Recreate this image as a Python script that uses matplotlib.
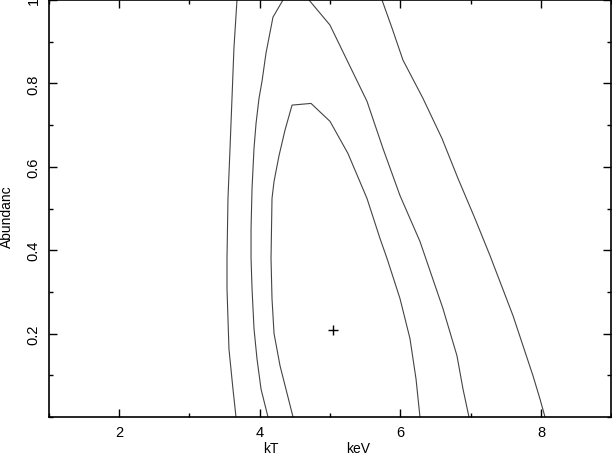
import numpy as np
import matplotlib
matplotlib.use('Agg')
import matplotlib.pyplot as plt
from matplotlib.ticker import MultipleLocator

plt.rcParams['font.family'] = ['Liberation Sans', 'DejaVu Sans']

# contour lines (kT in keV, abundance)
outer_left_kt = [3.677, 3.634, 3.606, 3.578, 3.549, 3.535, 3.535, 3.563, 3.620, 3.663]
outer_left_ab = [1.000, 0.885, 0.764, 0.644, 0.524, 0.380, 0.308, 0.163, 0.067, 0.000]
outer_right_kt = [5.739, 5.881, 6.037, 6.322, 6.592, 6.820, 7.061, 7.275, 7.602, 7.886, 7.986, 8.057]
outer_right_ab = [1.000, 0.933, 0.856, 0.764, 0.668, 0.572, 0.476, 0.387, 0.243, 0.099, 0.043, 0.000]

mid_left_kt = [4.331, 4.189, 4.090, 4.033, 3.990, 3.948, 3.919, 3.891, 3.877, 3.877, 3.891,
               3.919, 3.962, 4.019, 4.118]
mid_left_ab = [1.000, 0.959, 0.873, 0.805, 0.764, 0.704, 0.644, 0.548, 0.452, 0.380, 0.308,
               0.212, 0.139, 0.067, 0.000]
mid_right_kt = [4.701, 4.999, 5.255, 5.526, 5.753, 5.995, 6.137, 6.279, 6.606, 6.805, 6.891, 6.976]
mid_right_ab = [1.000, 0.940, 0.851, 0.757, 0.644, 0.531, 0.476, 0.421, 0.260, 0.147, 0.067, 0.000]

inner_kt = [4.474, 4.289, 4.204, 4.175, 4.161, 4.175, 4.204, 4.275, 4.360, 4.460, 4.730, 5.000,
            5.255, 5.526, 5.711, 5.811, 5.995, 6.137, 6.223, 6.279]
inner_ab = [0.000, 0.123, 0.200, 0.284, 0.380, 0.524, 0.565, 0.627, 0.688, 0.748, 0.752, 0.709,
            0.632, 0.524, 0.428, 0.380, 0.284, 0.188, 0.091, 0.000]

best_kt = [5.047]
best_ab = [0.209]

fig = plt.figure(figsize=(6.12, 4.56), dpi=100)
ax = fig.add_axes([0.0796, 0.0833, 0.9193, 0.9145])

lc = '#444444'
ax.plot(outer_left_kt, outer_left_ab, color=lc, lw=0.8)
ax.plot(outer_right_kt, outer_right_ab, color=lc, lw=0.8)
ax.plot(mid_left_kt, mid_left_ab, color=lc, lw=0.8)
ax.plot(mid_right_kt, mid_right_ab, color=lc, lw=0.8)
ax.plot(inner_kt, inner_ab, color=lc, lw=0.8)
ax.plot(best_kt, best_ab, '+', color='black', ms=7, mew=1.0)

ax.set_xlim(1, 9)
ax.set_ylim(0, 1)
ax.xaxis.set_minor_locator(MultipleLocator(1))
ax.yaxis.set_minor_locator(MultipleLocator(0.1))
ax.set_xticks([2, 4, 6, 8])
ax.set_xticklabels(['2', '4', '6', '8'])
ax.set_yticks([0.2, 0.4, 0.6, 0.8, 1.0])
ax.set_yticklabels(['0.2', '0.4', '0.6', '0.8', '1'], rotation=90, va='center')
ax.tick_params(which='both', direction='in', top=True, right=True, labelsize=10.5, pad=6)
ax.tick_params(which='major', length=6, width=1)
ax.tick_params(which='minor', length=3, width=1)
for s in ax.spines.values():
    s.set_linewidth(1.2)

fig.text(271 / 612, 1 - 449 / 456, 'kT', ha='center', va='center', fontsize=10)
fig.text(358 / 612, 1 - 449 / 456, 'keV', ha='center', va='center', fontsize=10)
fig.text(7 / 612, 1 - 217 / 456, 'Abundanc', ha='center', va='center', rotation=90, fontsize=10)

fig.savefig('out.png', dpi=100)
